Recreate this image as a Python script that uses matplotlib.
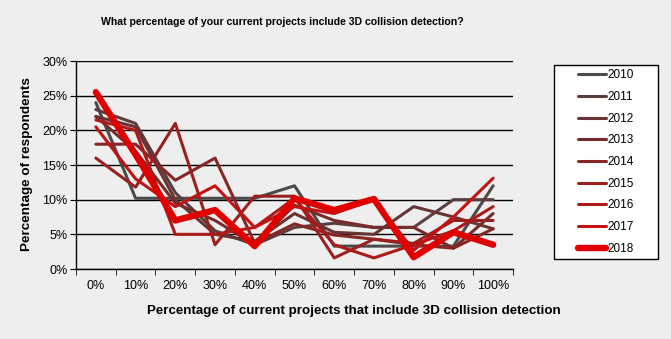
import numpy as np
import matplotlib.pyplot as plt
from matplotlib.patches import Rectangle

plt.rcParams['font.family'] = ['Liberation Sans', 'DejaVu Sans']

# categories (share of projects with 3D collision detection)
categories = ['0%', '10%', '20%', '30%', '40%', '50%', '60%', '70%', '80%', '90%', '100%']

# percentage of respondents per year
y2010 = [24.0, 10.2, 10.2, 10.2, 10.2, 12.0, 3.3, 3.3, 3.3, 3.3, 12.0]
y2011 = [23.0, 21.0, 11.0, 5.5, 3.5, 6.0, 6.6, 6.0, 6.0, 10.0, 10.0]
y2012 = [22.0, 20.5, 10.0, 5.0, 4.0, 8.0, 5.3, 5.0, 9.0, 7.5, 5.8]
y2013 = [22.0, 17.0, 9.5, 7.0, 3.5, 9.2, 7.0, 6.0, 6.0, 3.0, 8.0]
y2014 = [18.0, 18.0, 12.8, 16.0, 3.7, 6.5, 4.9, 4.3, 3.5, 3.0, 5.8]
y2015 = [16.0, 11.8, 21.0, 3.5, 10.5, 10.5, 1.6, 4.3, 3.7, 7.0, 7.0]
y2016 = [21.5, 20.0, 5.0, 5.0, 6.0, 10.2, 3.5, 1.6, 3.5, 5.5, 9.0]
y2017 = [20.5, 13.0, 9.0, 12.0, 6.0, 9.0, 8.0, 10.0, 2.7, 7.5, 13.1]
y2018 = [25.5, 16.5, 7.0, 8.5, 3.3, 10.2, 8.5, 10.1, 1.7, 5.3, 3.5]

years = ['2010', '2011', '2012', '2013', '2014', '2015', '2016', '2017', '2018']
series = [y2010, y2011, y2012, y2013, y2014, y2015, y2016, y2017, y2018]
colors = ['#4b4b4b', '#5a3e3e', '#683434', '#762c2c', '#882626', '#9a2020',
          '#ad1a1a', '#c11313', '#e00000']

bg = '#eeeeee'
fig = plt.figure(figsize=(6.71, 3.39), dpi=100, facecolor=bg)
ax = fig.add_axes([76/671, 1-269/339, (513-76)/671, (269-61)/339], facecolor=bg)

x = np.arange(len(categories))
for yr, vals, c in zip(years, series, colors):
    lw = 4.6 if yr == '2018' else 2.2
    ax.plot(x, vals, color=c, lw=lw, label=yr, solid_joinstyle='round',
            solid_capstyle='round', zorder=3)

ax.set_xlim(-0.5, len(categories) - 0.5)
ax.set_ylim(0, 30)
ax.set_yticks(np.arange(0, 31, 5))
ax.set_yticklabels([f'{v}%' for v in range(0, 31, 5)], fontsize=9)
ax.yaxis.grid(True, color='black', lw=1)
ax.set_axisbelow(True)

ax.set_xticks(x)
ax.set_xticklabels(categories, fontsize=9)
ax.set_xticks(np.arange(-0.5, len(categories)), minor=True)
ax.tick_params(axis='x', which='major', length=0, pad=8)
ax.tick_params(axis='x', which='minor', length=4, color='black')
ax.tick_params(axis='y', length=4, color='black', pad=2)

for s in ['top', 'right']:
    ax.spines[s].set_visible(False)
for s in ['left', 'bottom']:
    ax.spines[s].set_color('black')
    ax.spines[s].set_linewidth(1)

fig.text(27/671, 1-164/339, 'Percentage of respondents', rotation=90,
         ha='center', va='center', fontsize=9.7, fontweight='bold')
fig.text(354/671, 1-311/339, 'Percentage of current projects that include 3D collision detection',
         ha='center', va='center', fontsize=9.6, fontweight='bold')
fig.text(282/671, 1-22/339, 'What percentage of your current projects include 3D collision detection?',
         ha='center', va='center', fontsize=7.6, fontweight='bold')

# legend frame
fig.patches.append(Rectangle((554/671, 1-259/339), 104/671, 194/339,
                             transform=fig.transFigure, facecolor='white',
                             edgecolor='black', lw=1, zorder=1))
handles, labels = ax.get_legend_handles_labels()
fig.legend(handles, labels, loc='center', bbox_to_anchor=(606/671, 1-162/339),
           frameon=False, fontsize=8.5, handlelength=2.4, handletextpad=0.1,
           labelspacing=0.82, borderpad=0)

fig.savefig('out.png', dpi=100, facecolor=bg)
